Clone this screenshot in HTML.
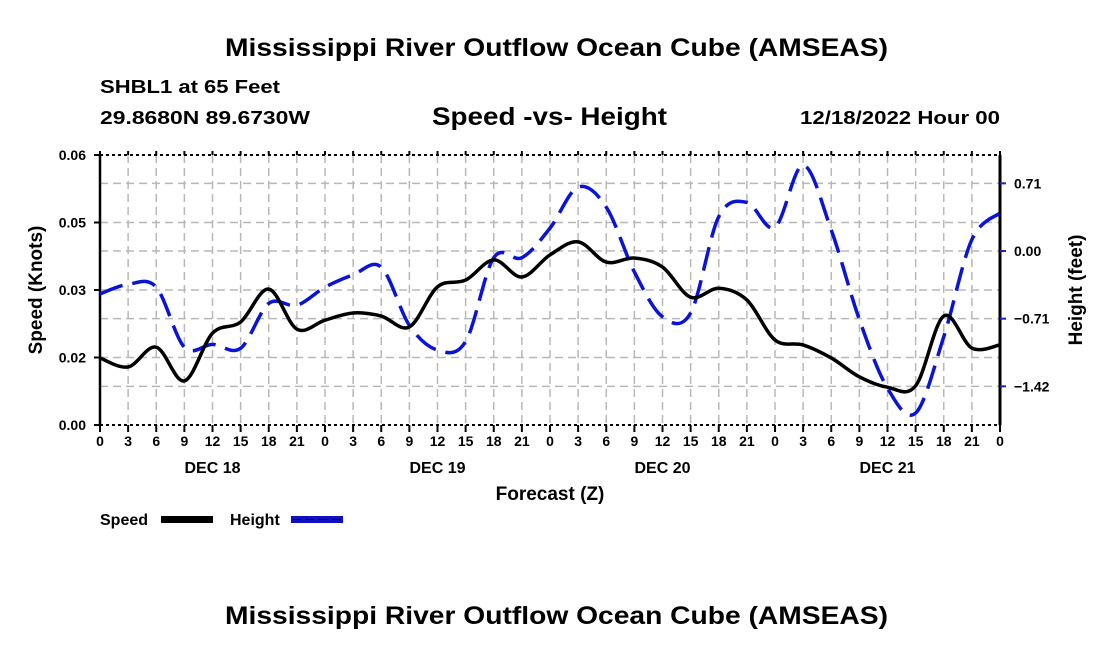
<!DOCTYPE html>
<html><head><meta charset="utf-8"><style>
html,body{margin:0;padding:0;background:#fff;width:1100px;height:650px;overflow:hidden}
svg text{font-family:"Liberation Sans",Arial,sans-serif;font-weight:bold;fill:#000}
</style></head><body>
<svg id="chart" width="1100" height="650" xmlns="http://www.w3.org/2000/svg">
<text x="225" y="56" font-size="25" textLength="663" lengthAdjust="spacingAndGlyphs">Mississippi River Outflow Ocean Cube (AMSEAS)</text>
<text x="100" y="93" font-size="18" textLength="180" lengthAdjust="spacingAndGlyphs">SHBL1 at 65 Feet</text>
<text x="100" y="124" font-size="18" textLength="210" lengthAdjust="spacingAndGlyphs">29.8680N  89.6730W</text>
<text x="432" y="125" font-size="25" textLength="235" lengthAdjust="spacingAndGlyphs">Speed -vs- Height</text>
<text x="800" y="124" font-size="18" textLength="200" lengthAdjust="spacingAndGlyphs">12/18/2022 Hour 00</text>
<g id="grid"></g>
<g id="axes"></g>
<g id="series"></g>
<text transform="translate(42,290) rotate(-90)" text-anchor="middle" font-size="19">Speed (Knots)</text>
<text transform="translate(1082,290) rotate(-90)" text-anchor="middle" font-size="19">Height (feet)</text>
<text x="550" y="500" text-anchor="middle" font-size="19">Forecast (Z)</text>
<g>
<text x="100" y="525" font-size="16">Speed</text>
<rect x="161" y="516" width="52" height="7" fill="#000"/>
<text x="230" y="525" font-size="16">Height</text>
<rect x="291" y="516" width="52" height="7" fill="#1010c0"/>
<line x1="293" y1="519.5" x2="343" y2="519.5" stroke="#000" stroke-width="1" stroke-dasharray="8,5"/>
</g>
<text x="225" y="624" font-size="25" textLength="663" lengthAdjust="spacingAndGlyphs">Mississippi River Outflow Ocean Cube (AMSEAS)</text>
</svg>
<script>
const hours = [0,3,6,9,12,15,18,21,24,27,30,33,36,39,42,45,48,51,54,57,60,63,66,69,72,75,78,81,84,87,90,93,96];
const speedValues = [0.0149,0.0129,0.0173,0.0098,0.0204,0.0229,0.0302,0.0213,0.0233,0.0249,0.0242,0.0218,0.0307,0.0322,0.0367,0.0329,0.0378,0.0407,0.0362,0.0371,0.0351,0.0284,0.0304,0.0278,0.0189,0.0178,0.0149,0.0107,0.0084,0.0087,0.0242,0.0171,0.0178];
const heightValues = [-0.45,-0.35,-0.38,-1.01,-0.98,-1.02,-0.55,-0.57,-0.38,-0.25,-0.17,-0.78,-1.04,-0.95,-0.07,-0.07,0.24,0.67,0.46,-0.22,-0.69,-0.65,0.36,0.51,0.25,0.90,0.22,-0.72,-1.44,-1.70,-0.90,0.12,0.40];
const speedTicks = [0,0.015,0.03,0.045,0.06];
const speedTickLabels = ["0.00","0.02","0.03","0.05","0.06"];
const heightTicks = [-1.42,-0.71,0,0.71];
const heightTickLabels = ["\u22121.42","\u22120.71","0.00","0.71"];
const xTickLabels = ["0","3","6","9","12","15","18","21"];
const dayLabels = ["DEC 18","DEC 19","DEC 20","DEC 21"];

const L=100,R=1000,T=155,B=425;
const xs = h => L + h*(R-L)/96;
const ySpeed = v => B - v*(B-T)/0.06;
const yHeight = v => 251 - v*95.3;
const NS="http://www.w3.org/2000/svg";
function mk(parent,tag,attrs){const e=document.createElementNS(NS,tag);for(const k in attrs)e.setAttribute(k,attrs[k]);parent.appendChild(e);return e;}
const grid=document.getElementById('grid'), axes=document.getElementById('axes'), series=document.getElementById('series');

for(let h=3;h<96;h+=3){
  const gl=mk(grid,'line',{x1:xs(h),x2:xs(h),y1:T,y2:B,stroke:'#b8b8b8','stroke-width':1.5,'stroke-dasharray':'8,5'});
  
  
}
const hy=[...speedTicks.slice(1,4).map(ySpeed),...heightTicks.map(yHeight)];
hy.forEach(y=>{
  const gl=mk(grid,'line',{x1:L,x2:R,y1:y,y2:y,stroke:'#b8b8b8','stroke-width':1.5,'stroke-dasharray':'8,5'});
  
  
});
// frame
mk(axes,'line',{x1:L,x2:R,y1:T,y2:T,stroke:'#000','stroke-width':2,'stroke-dasharray':'3,3'});
mk(axes,'line',{x1:L,x2:R,y1:B,y2:B,stroke:'#000','stroke-width':2,'stroke-dasharray':'3,3'});
mk(axes,'line',{x1:L,x2:L,y1:T,y2:B,stroke:'#000','stroke-width':2.5});
mk(axes,'line',{x1:R,x2:R,y1:T,y2:B,stroke:'#000','stroke-width':3});
speedTicks.forEach((v,i)=>{
  const y=ySpeed(v);
  mk(axes,'line',{x1:L-6,x2:L,y1:y,y2:y,stroke:'#000','stroke-width':2});
  const t=mk(axes,'text',{x:L-14,y:y+5,'text-anchor':'end','font-size':14});
  t.textContent=speedTickLabels[i];
  
  
});
heightTicks.forEach((v,i)=>{
  const y=yHeight(v);
  mk(axes,'line',{x1:R,x2:R+6,y1:y,y2:y,stroke:'#2020c0','stroke-width':2});
  const t=mk(axes,'text',{x:R+14,y:y+5,'font-size':14});
  t.textContent=heightTickLabels[i];
  
  
});
for(let h=0;h<=96;h+=3){
  mk(axes,'line',{x1:xs(h),x2:xs(h),y1:B,y2:B+7,stroke:'#000','stroke-width':2});
  mk(axes,'line',{x1:xs(h),x2:xs(h),y1:T-4,y2:T,stroke:'#000','stroke-width':2});
  const t=mk(axes,'text',{x:xs(h),y:B+21,'text-anchor':'middle','font-size':14});
  t.textContent=xTickLabels[(h/3)%8];
  
  
}
dayLabels.forEach((d,i)=>{
  const t=mk(axes,'text',{x:xs(i*24+12),y:B+48,'text-anchor':'middle','font-size':16});
  t.textContent=d;
  
  
});
function smooth(pts){
  let d=`M${pts[0][0]},${pts[0][1]}`;
  for(let i=0;i<pts.length-1;i++){
    const p0=pts[Math.max(0,i-1)],p1=pts[i],p2=pts[i+1],p3=pts[Math.min(pts.length-1,i+2)];
    const c1=[p1[0]+(p2[0]-p0[0])/6,p1[1]+(p2[1]-p0[1])/6];
    const c2=[p2[0]-(p3[0]-p1[0])/6,p2[1]-(p3[1]-p1[1])/6];
    d+=` C${c1[0]},${c1[1]} ${c2[0]},${c2[1]} ${p2[0]},${p2[1]}`;
  }
  return d;
}
const hp=mk(series,'path',{d:smooth(hours.map((h,i)=>[xs(h),yHeight(heightValues[i])])),fill:'none',stroke:'#0a14d8','stroke-width':3.5,'stroke-dasharray':'24,10'});


const sp=mk(series,'path',{d:smooth(hours.map((h,i)=>[xs(h),ySpeed(speedValues[i])])),fill:'none',stroke:'#000','stroke-width':3.5});


</script>
</body></html>
